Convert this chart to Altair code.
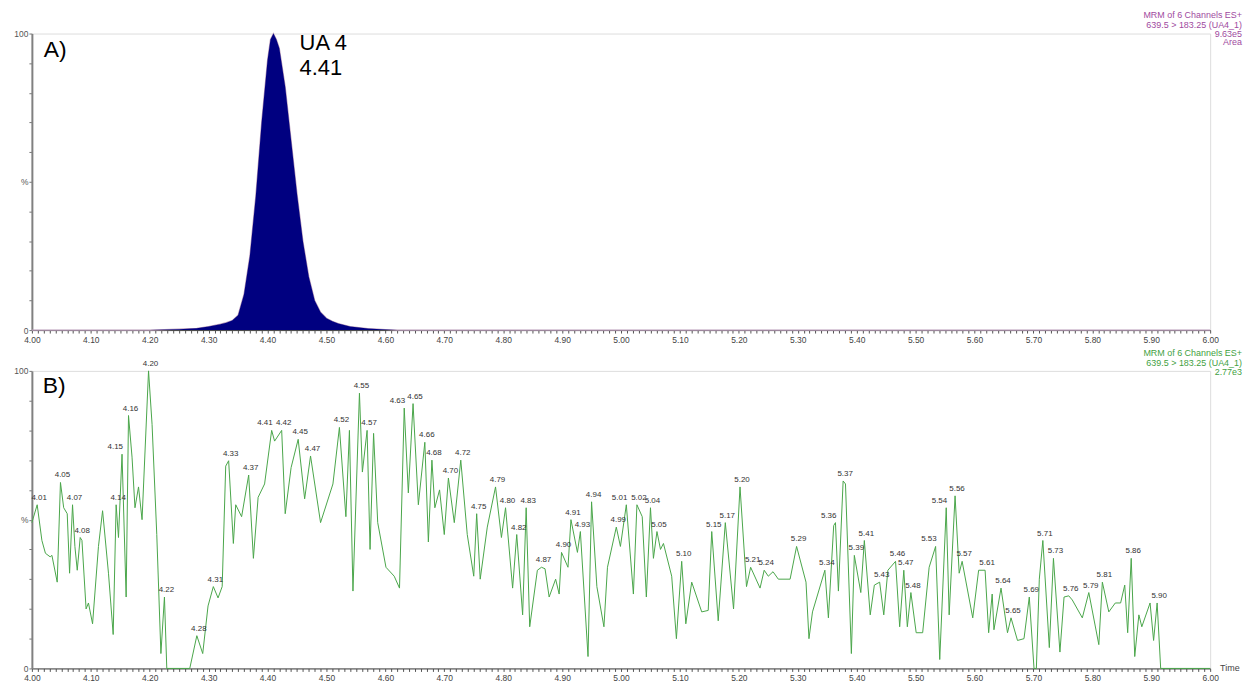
import altair as alt
import pandas as pd

FONT = "Liberation Sans"

# ---------------- Panel A: UA 4 peak (navy filled trace) ----------------
a_time = [4.00, 4.20, 4.25, 4.28, 4.30, 4.32, 4.33, 4.34, 4.35, 4.36, 4.37, 4.38,
          4.39, 4.40, 4.405, 4.41, 4.415, 4.42, 4.43, 4.44, 4.45, 4.46, 4.47, 4.48,
          4.49, 4.50, 4.51, 4.52, 4.54, 4.57, 4.60, 4.62, 6.00]
a_pct = [0, 0, 0.3, 0.6, 1.2, 2.0, 2.5, 3.2, 5, 12, 25, 45,
         70, 91, 98, 100, 98, 95, 82, 64, 46, 30, 18, 10,
         6, 4, 3, 2.2, 1.2, 0.5, 0.2, 0, 0]

# ---------------- Panel B: noisy green trace ----------------
b_time = [4.000, 4.009, 4.017, 4.023, 4.031, 4.034, 4.043, 4.0485, 4.054, 4.060,
          4.064, 4.069, 4.073, 4.077, 4.082, 4.085, 4.092, 4.096, 4.103, 4.113,
          4.120, 4.130, 4.138, 4.143, 4.147, 4.153, 4.160, 4.164, 4.170, 4.175,
          4.181, 4.187, 4.198, 4.204, 4.212, 4.219, 4.225, 4.229, 4.268, 4.280,
          4.290, 4.299, 4.308, 4.316, 4.323, 4.329, 4.334, 4.342, 4.346, 4.356,
          4.368, 4.376, 4.384, 4.395, 4.407, 4.412, 4.424, 4.430, 4.440, 4.452,
          4.463, 4.473, 4.490, 4.511, 4.522, 4.533, 4.539, 4.545, 4.556, 4.561,
          4.569, 4.574, 4.580, 4.587, 4.601, 4.615, 4.624, 4.632, 4.639, 4.647,
          4.656, 4.667, 4.673, 4.679, 4.684, 4.692, 4.700, 4.707, 4.717, 4.728,
          4.739, 4.750, 4.755, 4.761, 4.773, 4.787, 4.797, 4.804, 4.816, 4.823,
          4.833, 4.839, 4.845, 4.858, 4.865, 4.871, 4.878, 4.889, 4.895, 4.899,
          4.910, 4.915, 4.926, 4.931, 4.944, 4.950, 4.959, 4.971, 4.977, 4.992,
          4.999, 5.009, 5.021, 5.027, 5.036, 5.043, 5.050, 5.055, 5.061, 5.067,
          5.072, 5.086, 5.094, 5.103, 5.110, 5.120, 5.137, 5.148, 5.154, 5.165,
          5.177, 5.191, 5.202, 5.213, 5.220, 5.236, 5.243, 5.250, 5.258, 5.267,
          5.287, 5.298, 5.314, 5.319, 5.325, 5.346, 5.352, 5.361, 5.364, 5.369,
          5.377, 5.381, 5.391, 5.396, 5.407, 5.413, 5.423, 5.430, 5.439, 5.446,
          5.453, 5.466, 5.473, 5.480, 5.486, 5.492, 5.501, 5.512, 5.523, 5.534,
          5.541, 5.552, 5.557, 5.567, 5.574, 5.579, 5.597, 5.607, 5.618, 5.624,
          5.630, 5.633, 5.645, 5.656, 5.662, 5.673, 5.684, 5.693, 5.701, 5.705,
          5.710, 5.716, 5.727, 5.734, 5.745, 5.752, 5.760, 5.766, 5.783, 5.794,
          5.811, 5.817, 5.828, 5.839, 5.848, 5.855, 5.860, 5.866, 5.872, 5.879,
          5.884, 5.898, 5.904, 5.910, 5.916, 6.000]
b_pct = [49, 55, 43, 38.7, 37.5, 38, 29, 62.5, 54, 52,
         32, 55, 41, 33, 44, 43, 20, 22, 15, 41,
         53, 32, 11.4, 55, 44, 72, 24, 85, 71, 54,
         61, 50, 100, 82, 45, 5, 24, 0, 0, 11,
         5, 21, 27.5, 23.7, 27.5, 68, 69.8, 42, 55, 51,
         65, 37, 57.5, 62, 80, 76.4, 80, 52, 67.5, 77,
         57, 71.4, 49, 62, 81, 51, 80, 26, 92.5, 66,
         80, 40, 79, 49, 34, 31, 27, 87.5, 59, 89,
         55, 76, 42.5, 70, 54, 60, 45, 64, 49, 70,
         45, 31, 52, 30, 47.5, 61, 44, 54, 27, 45,
         18, 54, 14, 33, 34, 33.5, 24, 30, 25, 39,
         34, 50, 39, 46, 4, 56, 27.5, 14, 34, 47.5,
         41, 55, 25, 55, 51, 24, 54, 37, 46, 40,
         42, 31, 10, 36, 15, 29, 19, 19.5, 46, 16,
         49, 20, 61, 27.5, 34, 27, 33, 31, 32.5, 30,
         30, 41, 29, 10, 19, 33, 17, 48, 49, 26,
         63, 62, 5, 38, 25.5, 43, 18, 28, 29, 18,
         33, 36, 14, 33, 14, 25.5, 12, 12, 34, 41,
         3, 54, 18, 58, 32, 36, 17, 33, 33, 12,
         25, 13, 27, 12, 17, 9.4, 10, 24, 0, 0,
         30, 43, 7, 37, 5.5, 24, 24.4, 23, 17, 25.5,
         8, 29, 19, 22, 22, 28, 12, 37, 4, 18,
         14, 22, 9.4, 22, 0, 0]

# peak annotations in panel B
b_lab_text = ["4.01", "4.05", "4.07", "4.08", "4.14", "4.15", "4.16", "4.20", "4.22", "4.28",
              "4.31", "4.33", "4.37", "4.41", "4.42", "4.45", "4.47", "4.52", "4.55", "4.57",
              "4.63", "4.65", "4.66", "4.68", "4.70", "4.72", "4.75", "4.79", "4.80", "4.82",
              "4.83", "4.87", "4.90", "4.91", "4.93", "4.94", "4.99", "5.01", "5.02", "5.04",
              "5.05", "5.10", "5.15", "5.17", "5.20", "5.21", "5.24", "5.29", "5.34", "5.36",
              "5.37", "5.39", "5.41", "5.43", "5.46", "5.47", "5.48", "5.53", "5.54", "5.56",
              "5.57", "5.61", "5.64", "5.65", "5.69", "5.71", "5.73", "5.76", "5.79", "5.81",
              "5.86", "5.90"]
b_lab_time = [4.009, 4.0485, 4.069, 4.082, 4.143, 4.153, 4.164, 4.198, 4.225, 4.280,
              4.308, 4.334, 4.368, 4.407, 4.424, 4.452, 4.473, 4.522, 4.556, 4.569,
              4.632, 4.647, 4.667, 4.679, 4.707, 4.728, 4.755, 4.787, 4.804, 4.823,
              4.839, 4.865, 4.899, 4.915, 4.931, 4.950, 4.992, 5.009, 5.027, 5.050,
              5.061, 5.103, 5.154, 5.177, 5.202, 5.220, 5.243, 5.298, 5.346, 5.364,
              5.377, 5.396, 5.413, 5.439, 5.466, 5.480, 5.492, 5.534, 5.552, 5.567,
              5.579, 5.618, 5.645, 5.662, 5.693, 5.716, 5.734, 5.760, 5.794, 5.817,
              5.866, 5.910]
b_lab_pct = [55, 62.5, 55, 44, 55, 72, 85, 100, 24, 11,
             27.5, 69.8, 65, 80, 80, 77, 71.4, 81, 92.5, 80,
             87.5, 89, 76, 70, 64, 70, 52, 61, 54, 45,
             54, 34, 39, 50, 46, 56, 47.5, 55, 55, 54,
             46, 36, 46, 49, 61, 34, 33, 41, 33, 49,
             63, 38, 43, 29, 36, 33, 25.5, 41, 54, 58,
             36, 33, 27, 17, 24, 43, 37, 24.4, 25.5, 29,
             37, 22]

# labels that sit left of their peak (crowded pairs in the reference)
left_of_peak = {"4.15", "4.41", "4.63", "5.01", "5.36", "5.53", "5.54"}

x_major = [4.00, 4.10, 4.20, 4.30, 4.40, 4.50, 4.60, 4.70, 4.80, 4.90, 5.00,
           5.10, 5.20, 5.30, 5.40, 5.50, 5.60, 5.70, 5.80, 5.90, 6.00]
y_ticks = [0, 10, 20, 30, 40, 50, 60, 70, 80, 90, 100]

# minor ticks every 0.01 between the labelled ones
x_ticks = [round(x_major[0] + i * 0.01, 2) for i in range(201)]

W = 1184
HA = 298
HB = 299

xaxis = alt.Axis(
    values=x_ticks,
    labelExpr="(round(datum.value*100) % 10 == 0) ? format(datum.value, '.2f') : ''",
    labelOverlap=False, labelFlush=False, grid=False,
    tickSize=3, tickColor="#555555", domainColor="#444444", domainWidth=1,
    labelColor="#444444", labelFontSize=8.5, labelFont=FONT, labelPadding=2,
)
yaxis = alt.Axis(
    values=y_ticks,
    labelExpr="datum.value == 100 ? '100' : (datum.value == 0 ? '0' : (datum.value == 50 ? '%' : ''))",
    labelOverlap=False, grid=False,
    tickSize=3, tickColor="#777777", domainColor="#808080", domainWidth=2,
    labelColor="#555555", labelFontSize=8.5, labelFont=FONT, labelPadding=1,
)

xs = alt.Scale(domain=[4.0, 6.0], nice=False, zero=False)
ys = alt.Scale(domain=[0, 100], nice=False)

X = alt.X("t:Q", scale=xs, axis=xaxis, title=None)
Y = alt.Y("p:Q", scale=ys, axis=yaxis, title=None)

one = pd.DataFrame({"_": [0]})


def label(text, x, y, size, color, align="left"):
    return alt.Chart(one).mark_text(
        text=text, fontSize=size, color=color, align=align,
        baseline="alphabetic", font=FONT,
    ).encode(x=alt.value(x), y=alt.value(y))


# ---- Panel A ----
dfa = pd.DataFrame({"t": a_time, "p": a_pct})
base_a = alt.Chart(dfa).mark_line(color="#b89ab8", strokeWidth=1.2).encode(x=X, y=Y)
area_a = alt.Chart(dfa).mark_area(color="#000080").encode(x=X, y=Y)
purple = "#a04aa0"
R = W + 32
panel_a = alt.layer(
    base_a,
    area_a,
    label("A)", 12, 24, 23, "#000000"),
    label("UA 4", 269, 17, 22, "#000000"),
    label("4.41", 269, 42, 22, "#000000"),
    label("MRM of 6 Channels ES+", R, -16, 9, purple, "right"),
    label("639.5 > 183.25 (UA4_1)", R, -6, 9, purple, "right"),
    label("9.63e5", R, 3, 9, purple, "right"),
    label("Area", R, 12, 9, purple, "right"),
).properties(width=W, height=HA)

# ---- Panel B ----
dfb = pd.DataFrame({"t": b_time, "p": b_pct})
line_b = alt.Chart(dfb).mark_line(color="#4aa54a", strokeWidth=1).encode(x=X, y=Y)

dfl = pd.DataFrame({"t": b_lab_time, "p": b_lab_pct, "s": b_lab_text})
dfl_left = dfl[dfl["s"].isin(left_of_peak)]
dfl_mid = dfl[~dfl["s"].isin(left_of_peak)]
peaks_mid = alt.Chart(dfl_mid).mark_text(
    fontSize=8, color="#333333", font=FONT, baseline="bottom", dy=-3, dx=2
).encode(x=X, y=Y, text="s:N")
peaks_left = alt.Chart(dfl_left).mark_text(
    fontSize=8, color="#333333", font=FONT, baseline="bottom", align="right", dy=-3, dx=1
).encode(x=X, y=Y, text="s:N")

green = "#3f9f3f"
panel_b = alt.layer(
    line_b,
    peaks_mid,
    peaks_left,
    label("B)", 11, 22, 23, "#000000"),
    label("MRM of 6 Channels ES+", R, -15, 9, green, "right"),
    label("639.5 > 183.25 (UA4_1)", R, -5, 9, green, "right"),
    label("2.77e3", R, 4, 9, green, "right"),
    label("Time", W + 10, HB + 3, 9, "#444444", "left"),
).properties(width=W, height=HB)

chart = alt.vconcat(panel_a, panel_b, spacing=41, bounds="flush").properties(
    padding={"left": 5, "top": 0, "right": 0, "bottom": 0}
).configure_view(stroke=None).configure(background="white")

chart.save("out.html", embed_options={"renderer": "svg", "actions": False})
